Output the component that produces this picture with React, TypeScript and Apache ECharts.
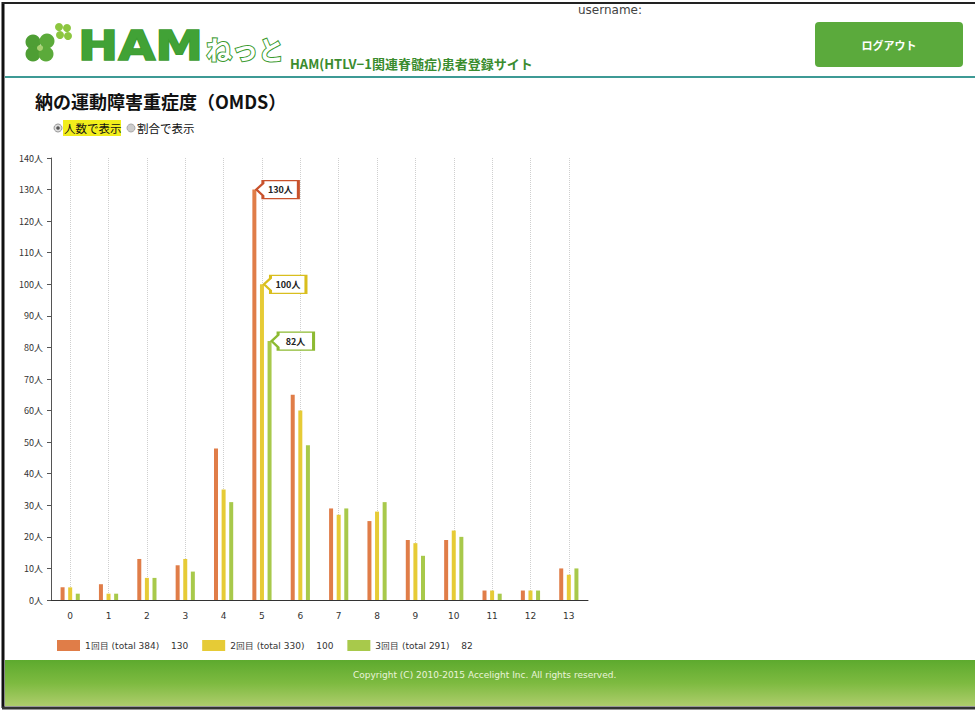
import React, { useEffect, useRef } from "react";
import * as echarts from "echarts";

const categories = ["0", "1", "2", "3", "4", "5", "6", "7", "8", "9", "10", "11", "12", "13"];
const round1 = [4, 5, 13, 11, 48, 130, 65, 29, 25, 19, 19, 3, 3, 10];
const round2 = [4, 2, 7, 13, 35, 100, 60, 27, 28, 18, 22, 3, 3, 8];
const round3 = [2, 2, 7, 9, 31, 82, 49, 29, 31, 14, 20, 2, 3, 10];
const roundNames = ["1回目", "2回目", "3回目"];
const barColors = ["#E07D48", "#E6CB36", "#A8C94B"];
const boxColors = ["#C9522C", "#D9BE1E", "#8DBA32"];

const FONT = "'Noto Sans CJK JP', 'DejaVu Sans', sans-serif";

export default function App() {
  const ref = useRef<HTMLDivElement>(null);
  useEffect(() => {
    if (!ref.current) return;
    const chart = echarts.init(ref.current, undefined, { renderer: "svg" });
    const datasets = [round1, round2, round3];
    const sum = (a: number[]) => a.reduce((s, v) => s + v, 0);
    const names = datasets.map((d, i) => `${roundNames[i]} (total ${sum(d)})`);
    const maxByName: Record<string, number> = {};
    names.forEach((n, i) => (maxByName[n] = Math.max(...datasets[i])));
    const calloutPath = "path://M0,9 L7,3 L7,0 L45,0 L45,18 L7,18 L7,15 Z";

    const series = datasets.map((d, i) => ({
      type: "bar",
      name: names[i],
      data: d,
      barWidth: 4,
      barGap: "90%",
      itemStyle: { color: barColors[i] },
      markPoint: {
        symbol: calloutPath,
        symbolSize: [42, 18],
        symbolOffset: [23, 0],
        itemStyle: { color: "#fff", borderColor: boxColors[i], borderWidth: 2 },
        label: {
          show: true,
          position: "inside",
          offset: [3, 0],
          formatter: (p: any) => `${p.value}人`,
          color: "#222",
          fontWeight: "bold",
          fontSize: 9,
          fontFamily: FONT,
        },
        data: [{ type: "max" }],
      },
    }));

    const graphic: any[] = [
      // page frame
      { type: "line", shape: { x1: 3, y1: 2, x2: 3, y2: 708 }, style: { stroke: "#111", lineWidth: 3 } },
      { type: "line", shape: { x1: 2, y1: 3, x2: 975, y2: 3 }, style: { stroke: "#222", lineWidth: 2 } },
      { type: "line", shape: { x1: 2, y1: 708, x2: 975, y2: 708 }, style: { stroke: "#333", lineWidth: 3 } },
      // header
      { type: "line", shape: { x1: 5, y1: 77, x2: 975, y2: 77 }, style: { stroke: "#3E9A95", lineWidth: 2 } },
      // big clover
      { type: "circle", shape: { cx: 33, cy: 42, r: 7.5 }, style: { fill: "#4E9E34" } },
      { type: "circle", shape: { cx: 47, cy: 41, r: 7.5 }, style: { fill: "#5BAA3A" } },
      { type: "circle", shape: { cx: 33, cy: 54, r: 7.5 }, style: { fill: "#4E9E34" } },
      { type: "circle", shape: { cx: 46, cy: 54, r: 7.5 }, style: { fill: "#5BAA3A" } },
      { type: "circle", shape: { cx: 40, cy: 48, r: 3 }, style: { fill: "#A8D070" } },
      // small clover
      { type: "circle", shape: { cx: 59, cy: 27, r: 4 }, style: { fill: "#8CC63F" } },
      { type: "circle", shape: { cx: 67, cy: 28, r: 4 }, style: { fill: "#8CC63F" } },
      { type: "circle", shape: { cx: 60, cy: 35, r: 4 }, style: { fill: "#8CC63F" } },
      { type: "circle", shape: { cx: 68, cy: 36, r: 4 }, style: { fill: "#8CC63F" } },
      {
        type: "text",
        x: 78,
        y: 46,
        scaleX: 1.2,
        style: {
          text: "HAM",
          fontSize: 40,
          fontWeight: 900,
          fontFamily: "'DejaVu Sans', sans-serif",
          fill: "#41A236",
          stroke: "#3A9A2E",
          lineWidth: 1.5,
          verticalAlign: "middle",
        },
      },
      {
        type: "text",
        x: 206,
        y: 48,
        style: {
          text: "ねっと",
          fontSize: 26,
          fontWeight: "bold",
          fontFamily: FONT,
          fill: "#fff",
          stroke: "#3A9A2E",
          lineWidth: 2,
          verticalAlign: "middle",
        },
      },
      {
        type: "text",
        x: 290,
        y: 63,
        style: {
          text: "HAM(HTLV−1関連脊髄症)患者登録サイト",
          fontSize: 13,
          fontWeight: "bold",
          fontFamily: FONT,
          fill: "#3A8C2E",
          verticalAlign: "middle",
        },
      },
      {
        type: "text",
        x: 578,
        y: 10,
        style: { text: "username:", fontSize: 12, fontFamily: "'DejaVu Sans', sans-serif", fill: "#444", verticalAlign: "middle" },
      },
      {
        type: "rect",
        shape: { x: 815, y: 22, width: 148, height: 45, r: 4 },
        style: { fill: "#5BAA3C" },
      },
      {
        type: "text",
        x: 889,
        y: 45,
        style: {
          text: "ログアウト",
          fontSize: 11,
          fontWeight: "bold",
          fontFamily: FONT,
          fill: "#fff",
          align: "center",
          verticalAlign: "middle",
        },
      },
      // title
      {
        type: "text",
        x: 35,
        y: 101,
        style: {
          text: "納の運動障害重症度（OMDS）",
          fontSize: 18,
          fontWeight: "bold",
          fontFamily: FONT,
          fill: "#111",
          verticalAlign: "middle",
        },
      },
      // radios
      { type: "circle", shape: { cx: 58, cy: 128, r: 4 }, style: { fill: "#ddd", stroke: "#999", lineWidth: 1 } },
      { type: "circle", shape: { cx: 58, cy: 128, r: 1.8 }, style: { fill: "#555" } },
      { type: "rect", shape: { x: 63, y: 120, width: 58, height: 16 }, style: { fill: "#F2EE1C" } },
      {
        type: "text",
        x: 64,
        y: 128,
        style: { text: "人数で表示", fontSize: 11.5, fontFamily: FONT, fill: "#111", verticalAlign: "middle" },
      },
      { type: "circle", shape: { cx: 131, cy: 128, r: 4 }, style: { fill: "#ccc", stroke: "#aaa", lineWidth: 1 } },
      {
        type: "text",
        x: 137,
        y: 128,
        style: { text: "割合で表示", fontSize: 11.5, fontFamily: FONT, fill: "#111", verticalAlign: "middle" },
      },
      // footer
      {
        type: "rect",
        shape: { x: 5, y: 660, width: 970, height: 46 },
        style: {
          fill: new echarts.graphic.LinearGradient(0, 0, 0, 1, [
            { offset: 0, color: "#5DAA2E" },
            { offset: 0.5, color: "#7DBA40" },
            { offset: 1, color: "#AECD6C" },
          ]),
        },
      },
      {
        type: "text",
        x: 353,
        y: 675,
        style: {
          text: "Copyright (C) 2010-2015 Accelight Inc. All rights reserved.",
          fontSize: 9,
          fontFamily: "'DejaVu Sans', sans-serif",
          fill: "#EAF4DA",
          verticalAlign: "middle",
        },
      },
    ];

    chart.setOption({
      animation: false,
      backgroundColor: "#fff",
      textStyle: { fontFamily: FONT },
      grid: { left: 51, right: 387, top: 158, bottom: 111, containLabel: false },
      legend: {
        left: 52,
        top: 635,
        itemWidth: 23,
        itemHeight: 11,
        itemGap: 14,
        icon: "rect",
        data: names,
        formatter: (n: string) => `{n|${n}}{v|${maxByName[n]}}`,
        textStyle: {
          rich: {
            n: { width: 86, fontSize: 9, fontFamily: "'DejaVu Sans', sans-serif", color: "#333" },
            v: { width: 30, fontSize: 9, fontFamily: "'DejaVu Sans', sans-serif", color: "#333" },
          },
        },
      },
      xAxis: {
        type: "category",
        data: categories,
        axisLine: { lineStyle: { color: "#333", width: 1 } },
        axisTick: { show: false, alignWithLabel: true },
        axisLabel: { fontSize: 9, color: "#333", margin: 11, fontFamily: "'DejaVu Sans', sans-serif" },
        splitLine: { show: true, alignWithLabel: true, lineStyle: { color: "#cfcfcf", type: "dotted", width: 1 } },
      },
      yAxis: {
        type: "value",
        min: 0,
        max: 140,
        interval: 10,
        axisLine: { show: true, lineStyle: { color: "#555", width: 1 } },
        axisTick: { show: true, length: 4, lineStyle: { color: "#555" } },
        axisLabel: { formatter: "{value}人", fontSize: 9, color: "#333", margin: 8 },
        splitLine: { show: false },
      },
      series,
      graphic,
    } as any);
    return () => chart.dispose();
  }, []);
  return (
    <div
      ref={ref}
      style={{ position: "absolute", left: 0, top: 0, width: 975, height: 711, background: "#fff" }}
    />
  );
}
